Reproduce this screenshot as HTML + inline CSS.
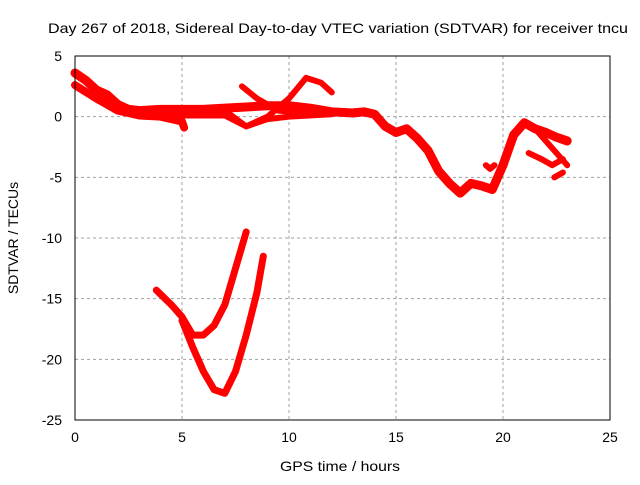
<!DOCTYPE html>
<html><head><meta charset="utf-8"><style>
body{margin:0;background:#fff}
svg text{font-family:"Liberation Sans",sans-serif;font-size:14px;fill:#000}
</style></head><body>
<svg id="chart" width="640" height="480" xmlns="http://www.w3.org/2000/svg">
<text x="48" y="33" textLength="580" lengthAdjust="spacingAndGlyphs" font-size="15">Day 267 of 2018, Sidereal Day-to-day VTEC variation (SDTVAR) for receiver tncu</text>
<text x="340" y="471" text-anchor="middle" textLength="120" lengthAdjust="spacingAndGlyphs">GPS time / hours</text>
<text transform="translate(18,238) rotate(-90)" text-anchor="middle">SDTVAR / TECUs</text>
<g id="grid"></g>
<g id="series"></g>
<rect x="75" y="56" width="535" height="364" fill="none" stroke="#000" stroke-width="1"/>
</svg>
<script>
const xTicks=[0,5,10,15,20,25];
const yTicks=[5,0,-5,-10,-15,-20,-25];
const trackMainX=[0,0.5,1,1.5,2,2.5,3,4,5,6,7,8,9,10,11,12,13,13.5,14,14.5,15,15.5,16,16.5,17,17.5,18,18.5,19,19.5,20,20.5,21,21.5,22,22.5,23];
const trackMainY=[3.6,3,2.2,1.8,1,0.6,0.5,0.6,0.6,0.6,0.7,0.8,0.9,0.9,0.7,0.4,0.3,0.4,0.2,-0.8,-1.3,-1,-1.8,-2.8,-4.5,-5.5,-6.3,-5.5,-5.7,-6,-4,-1.5,-0.5,-1,-1.3,-1.7,-2];
const trackLowX=[0,1,2,3,4,5,5.1];
const trackLowY=[2.6,1.5,0.5,0.1,0,-0.4,-0.9];
const trackCrossAX=[7.8,8.5,9.5,11,12,13.5];
const trackCrossAY=[2.5,1.5,0.5,0.3,0.3,0.5];
const trackCrossBX=[7,8,9,10,10.8,11.5,12];
const trackCrossBY=[0.5,-0.8,0,1.5,3.2,2.8,2];
const trackCrossCX=[3,5,7,8,9,10,12];
const trackCrossCY=[0.4,0.1,0.1,-0.8,-0.2,0,0.2];
const trackBumpX=[19.2,19.4,19.6];
const trackBumpY=[-4,-4.3,-4];
const trackLateAX=[21.2,21.8,22.3,22.8];
const trackLateAY=[-3,-3.5,-4,-3.5];
const trackLateBX=[21.5,22,22.5,23];
const trackLateBY=[-1,-2,-3,-4];
const trackLateCX=[22.4,22.8];
const trackLateCY=[-5,-4.6];
const dipUpperX=[3.8,4.5,5,5.5,6,6.5,7,7.5,8];
const dipUpperY=[-14.3,-15.5,-16.5,-18,-18,-17.2,-15.5,-12.5,-9.5];
const dipLowerX=[5,5.5,6,6.5,7,7.5,8,8.5,8.8];
const dipLowerY=[-16.8,-19,-21,-22.5,-22.8,-21,-18,-14.5,-11.5];
const X=v=>75+v*(535/25);
const Y=v=>56+(5-v)*(364/30);
const NS="http://www.w3.org/2000/svg";
const svg=document.getElementById('chart'),grid=document.getElementById('grid'),ser=document.getElementById('series');
function mk(t,a,p){const e=document.createElementNS(NS,t);for(const k in a)e.setAttribute(k,a[k]);p.appendChild(e);return e;}
xTicks.forEach(v=>{
  if(v>0&&v<25){const l=mk('line',{x1:X(v),x2:X(v),y1:56,y2:420,stroke:'#a0a0a0','stroke-dasharray':'3,3'},grid);
  
  }
  const t=mk('text',{x:X(v),y:442,'text-anchor':'middle'},svg);t.textContent=v;
  
  
});
yTicks.forEach(v=>{
  if(v<5&&v>-25){const l=mk('line',{x1:75,x2:610,y1:Y(v),y2:Y(v),stroke:'#a0a0a0','stroke-dasharray':'3,3'},grid);
  
  }
  const t=mk('text',{x:62,y:Y(v)+5,'text-anchor':'end'},svg);t.textContent=v;
  
  
});
const tracks=[[trackMainX,trackMainY,9],[trackLowX,trackLowY,8],[trackCrossAX,trackCrossAY,6],[trackCrossBX,trackCrossBY,6],[trackCrossCX,trackCrossCY,6],[trackBumpX,trackBumpY,6],[trackLateAX,trackLateAY,6],[trackLateBX,trackLateBY,6],[trackLateCX,trackLateCY,6],[dipUpperX,dipUpperY,7],[dipLowerX,dipLowerY,7]];
tracks.forEach(([xs,ys,w])=>{
  const pts=xs.map((x,i)=>X(x)+','+Y(ys[i])).join(' ');
  const p=mk('polyline',{points:pts,fill:'none',stroke:'#ff0000','stroke-width':w,'stroke-linejoin':'round','stroke-linecap':'round'},ser);
  
  
});
</script>
</body></html>
